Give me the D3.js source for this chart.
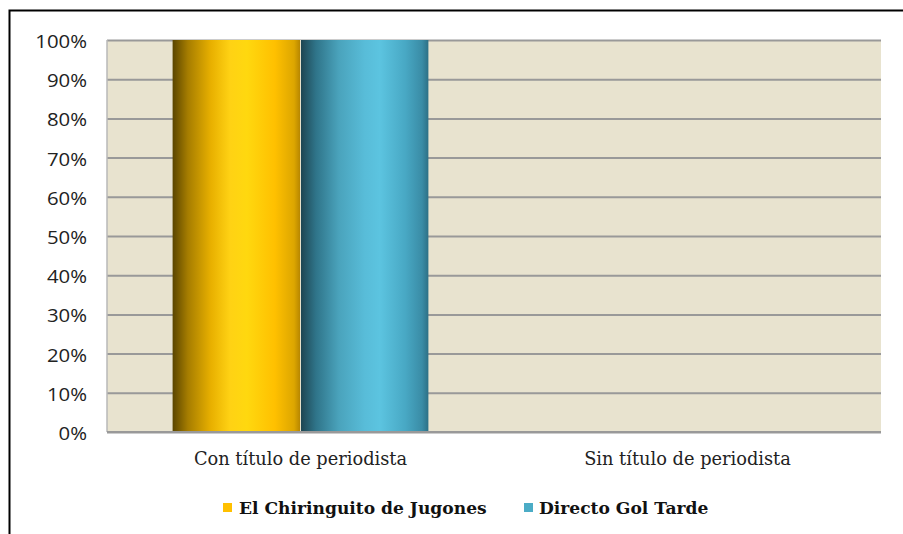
<!DOCTYPE html>
<html>
<head>
<meta charset="utf-8">
<script src="https://cdn.jsdelivr.net/npm/d3@7"></script>
<style>
  html, body { margin: 0; padding: 0; background: #fff; }
  svg { display: block; }
</style>
</head>
<body>
<svg id="chart" width="903" height="534"></svg>
<script>
// Categories, series and tick labels
const categories = ["Con título de periodista", "Sin título de periodista"];
const seriesNames = ["El Chiringuito de Jugones", "Directo Gol Tarde"];
const chiringuito = [1.0, 0.0];
const golTarde = [1.0, 0.0];
const tickValues = [0, 0.1, 0.2, 0.3, 0.4, 0.5, 0.6, 0.7, 0.8, 0.9, 1.0];

const svg = d3.select("#chart");

// Outer frame (runs past the right and bottom edges)
svg.append("rect")
  .attr("x", 9.5).attr("y", 10.5)
  .attr("width", 1000).attr("height", 1000)
  .attr("fill", "none").attr("stroke", "#000").attr("stroke-width", 2);

const plot = { left: 107, right: 881, top: 40, bottom: 432 };

const x0 = d3.scaleBand().domain(categories)
  .range([plot.left, plot.right]).paddingInner(0).paddingOuter(0);
const x1 = d3.scaleBand().domain(seriesNames)
  .range([0, x0.bandwidth()]).paddingInner(0).paddingOuter(0.513);
const y = d3.scaleLinear().domain([0, 1]).range([plot.bottom, plot.top]);

// Gradients for the cylinder-like bar shading
const defs = svg.append("defs");
function grad(id, stops) {
  const g = defs.append("linearGradient").attr("id", id)
    .attr("x1", "0%").attr("x2", "100%").attr("y1", "0%").attr("y2", "0%");
  stops.forEach(([o, c]) => g.append("stop").attr("offset", o).attr("stop-color", c));
}
grad("gGold", [["0%", "#5a4500"], ["12%", "#a67d00"], ["30%", "#e8b000"], ["45%", "#ffd214"], ["58%", "#ffd80f"], ["80%", "#ffc000"], ["95%", "#dca600"], ["100%", "#b48400"]]);
grad("gTeal", [["0%", "#1e4450"], ["12%", "#2f7489"], ["30%", "#4aa3bc"], ["50%", "#58bcd8"], ["62%", "#5cc4e0"], ["82%", "#48a8c4"], ["95%", "#3a8ca6"], ["100%", "#2d7086"]]);
const fills = { "El Chiringuito de Jugones": "url(#gGold)", "Directo Gol Tarde": "url(#gTeal)" };
const legendColors = { "El Chiringuito de Jugones": "#ffc000", "Directo Gol Tarde": "#4bacc6" };

// Plot background
svg.append("rect")
  .attr("x", plot.left).attr("y", plot.top)
  .attr("width", plot.right - plot.left).attr("height", plot.bottom - plot.top)
  .attr("fill", "#e8e3cf");

// Gridlines
const yAxisGrid = d3.axisLeft(y).tickValues(tickValues)
  .tickSize(-(plot.right - plot.left)).tickFormat("");
svg.append("g").attr("transform", `translate(${plot.left},0)`)
  .call(yAxisGrid)
  .call(g => g.select(".domain").remove())
  .call(g => g.selectAll("line").attr("stroke", "#999").attr("stroke-width", 2));

// Left axis line
svg.append("line")
  .attr("x1", plot.left).attr("x2", plot.left)
  .attr("y1", plot.top).attr("y2", plot.bottom)
  .attr("stroke", "#b8b8b8").attr("stroke-width", 1.5);

// Tick labels
const yAxis = d3.axisLeft(y).tickValues(tickValues).tickSize(0).tickPadding(20)
  .tickFormat(d3.format(".0%"));
svg.append("g").attr("transform", `translate(${plot.left},0)`)
  .call(yAxis)
  .call(g => g.select(".domain").remove())
  .call(g => g.selectAll("text")
    .attr("font-family", "'Open Sans', Lato, sans-serif")
    .attr("font-size", 18).attr("fill", "#222").attr("dy", "0.42em")
    .each(function () {
      const w = this.getComputedTextLength();
      d3.select(this).attr("textLength", w * 1.13).attr("lengthAdjust", "spacingAndGlyphs");
    }));

// Bars
const rows = categories.map((c, i) => ({
  cat: c,
  vals: [
    { name: seriesNames[0], v: chiringuito[i] },
    { name: seriesNames[1], v: golTarde[i] }
  ]
}));
const groups = svg.append("g").selectAll("g").data(rows).join("g")
  .attr("transform", d => `translate(${x0(d.cat)},0)`);
groups.selectAll("rect").data(d => d.vals.filter(v => v.v > 0)).join("rect")
  .attr("x", d => x1(d.name))
  .attr("y", d => y(d.v))
  .attr("width", x1.bandwidth())
  .attr("height", d => y(0) - y(d.v))
  .attr("fill", d => fills[d.name]);
// Thin light divider between adjacent bars
groups.selectAll("line.sep").data(d => d.vals.filter(v => v.v > 0).slice(1)).join("line")
  .attr("class", "sep")
  .attr("x1", d => x1(d.name)).attr("x2", d => x1(d.name))
  .attr("y1", d => y(d.v)).attr("y2", y(0))
  .attr("stroke", "#e8e0c8").attr("stroke-width", 1);

// Bottom axis line
svg.append("line")
  .attr("x1", plot.left).attr("x2", plot.right)
  .attr("y1", plot.bottom).attr("y2", plot.bottom)
  .attr("stroke", "#999").attr("stroke-width", 2);

// Category labels
const xAxis = d3.axisBottom(x0).tickSize(0).tickPadding(20);
svg.append("g").attr("transform", `translate(0,${plot.bottom})`)
  .call(xAxis)
  .call(g => g.select(".domain").remove())
  .call(g => g.selectAll("text")
    .attr("font-family", "'DejaVu Serif', serif")
    .attr("font-size", 17.8).attr("fill", "#222"));

// Legend
const legendItems = [
  { name: seriesNames[0], sx: 223, tx: 239 },
  { name: seriesNames[1], sx: 524, tx: 539 }
];
const lg = svg.append("g");
legendItems.forEach(it => {
  lg.append("rect").attr("x", it.sx).attr("y", 503).attr("width", 9).attr("height", 9)
    .attr("fill", legendColors[it.name]);
  lg.append("text").attr("x", it.tx).attr("y", 514)
    .attr("font-family", "'DejaVu Serif', serif").attr("font-weight", "bold")
    .attr("font-size", 17.1).attr("fill", "#111").text(it.name);
});
</script>
</body>
</html>
